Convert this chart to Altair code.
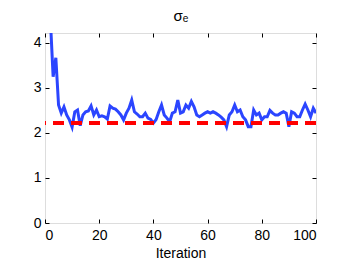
import altair as alt
import pandas as pd

iterations = list(range(1, 101))
sigma_e = [
    8.0, 4.5, 3.25, 3.67, 2.62, 2.44, 2.58, 2.40, 2.29, 2.13,
    2.47, 2.51, 2.16, 2.40, 2.47, 2.49, 2.60, 2.40, 2.51, 2.36,
    2.38, 2.36, 2.31, 2.60, 2.55, 2.53, 2.47, 2.40, 2.29, 2.44,
    2.55, 2.73, 2.47, 2.42, 2.36, 2.36, 2.44, 2.33, 2.30, 2.22,
    2.30, 2.47, 2.62, 2.40, 2.33, 2.25, 2.44, 2.47, 2.73, 2.44,
    2.47, 2.62, 2.55, 2.70, 2.58, 2.40, 2.36, 2.40, 2.44, 2.47,
    2.44, 2.47, 2.44, 2.40, 2.35, 2.29, 2.14, 2.40, 2.47, 2.62,
    2.47, 2.51, 2.36, 2.29, 2.14, 2.14, 2.51, 2.40, 2.44, 2.29,
    2.36, 2.36, 2.50, 2.44, 2.40, 2.40, 2.44, 2.47, 2.44, 2.14,
    2.47, 2.44, 2.36, 2.36, 2.51, 2.64, 2.51, 2.36, 2.55, 2.44,
]
true_sigma = 2.22
x_ticks = [0, 20, 40, 60, 80, 100]
y_ticks = [0, 1, 2, 3, 4]
title_text = "σₑ"

df = pd.DataFrame({"Iteration": iterations, "sigma": sigma_e})

FONT = "Liberation Sans"
xscale = alt.Scale(domain=[0, 100], nice=False, zero=False)
yscale = alt.Scale(domain=[0, 4.22], nice=False, zero=False)

common_axis = dict(
    grid=False, domain=False, tickColor="black", tickSize=4, offset=-4,
    labelFont=FONT, labelFontSize=14, labelColor="black",
    titleFont=FONT, titleFontSize=14, titleColor="black", titleFontWeight="normal",
)

line = alt.Chart(df).mark_line(color="#2b45ff", strokeWidth=3, clip=True).encode(
    x=alt.X("Iteration:Q", scale=xscale,
            axis=alt.Axis(orient="bottom", values=x_ticks, labelPadding=5,
                          title="Iteration", titlePadding=4, **common_axis)),
    y=alt.Y("sigma:Q", scale=yscale,
            axis=alt.Axis(orient="left", values=y_ticks, labelPadding=4,
                          title=None, **common_axis)),
)

ref = alt.Chart(df).mark_rule(color="#ff0000", strokeWidth=3, strokeDash=[11, 7]).encode(
    y=alt.YDatum(true_sigma, scale=yscale, axis=None),
)

frame = alt.Chart(df).mark_point(opacity=0).encode(
    x=alt.X("Iteration:Q", scale=xscale,
            axis=alt.Axis(orient="top", values=x_ticks, labels=False,
                          title=title_text, titlePadding=9,
                          grid=False, domain=False, tickColor="black",
                          tickSize=4, offset=-4,
                          titleFont=FONT, titleFontSize=15, titleColor="black",
                          titleFontWeight="normal")),
    y=alt.Y("sigma:Q", scale=yscale,
            axis=alt.Axis(orient="right", values=y_ticks, labels=False, title=None,
                          grid=False, domain=False, tickColor="black",
                          tickSize=4, offset=-4)),
)

chart = alt.layer(line, ref, frame).resolve_axis(
    x="independent", y="independent"
).properties(
    width=271, height=190,
    autosize=alt.AutoSizeParams(type="none"),
    padding={"left": 37, "top": 25, "right": 25, "bottom": 40},
).configure_view(stroke="black", strokeWidth=1.2).configure(background="white")

chart.save("out.html", embed_options={"renderer": "svg", "actions": False})
